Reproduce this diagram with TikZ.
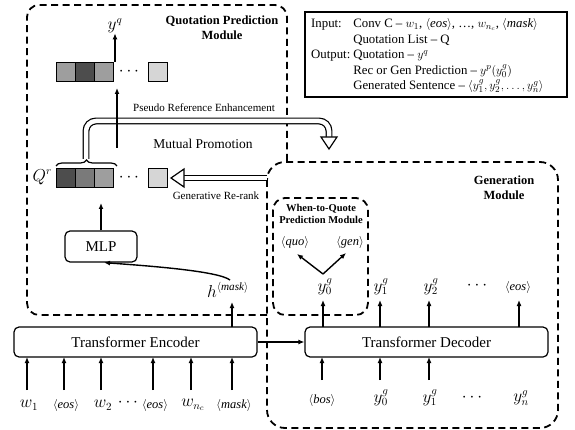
\documentclass[tikz,border=0pt]{standalone}
\usepackage{fontspec}
\setmainfont{Liberation Serif}
\usetikzlibrary{arrows.meta,decorations.pathreplacing,calc}
\definecolor{cA}{HTML}{9E9E9E}
\definecolor{cB}{HTML}{4D4D4D}
\definecolor{cC}{HTML}{7A7A7A}
\definecolor{cD}{HTML}{D6D6D6}
\begin{document}
\begin{tikzpicture}[x=1pt,y=-1pt,
  modbox/.style={line width=1.8pt, dash pattern=on 7pt off 4.5pt},
  tbox/.style={draw, line width=1.2pt, rounded corners=5pt, minimum height=30pt, inner sep=0pt, font=\fontsize{15}{17}\selectfont},
  arr/.style={-{Latex[length=6pt,width=5pt]}, line width=1.4pt},
  lbl/.style={inner sep=0pt, font=\fontsize{16}{18}\selectfont},
  slbl/.style={inner sep=0pt, font=\fontsize{12.5}{14}\selectfont},
  cell/.style={draw, line width=0.8pt, minimum width=19pt, minimum height=19pt, inner sep=0pt},
  hollow/.style={draw, double=white, double distance=4.5pt, line width=1.2pt},
  hhead/.style={draw, fill=white, line width=1.2pt, line join=miter},
  title/.style={inner sep=0pt, align=center, font=\fontsize{12.5}{15}\selectfont\bfseries},
]
\useasboundingbox (0,0) rectangle (575,430);

% module outlines
\draw[modbox, rounded corners=12pt] (267,315) -- (27,315) -- (27,5) -- (287,5) -- (287,162);
\draw[modbox, rounded corners=18pt] (267,162) rectangle (558,428);
\draw[modbox, rounded corners=12pt] (273,198) rectangle (368,315);

% titles
\node[title] (tq) at (222,28) {Quotation Prediction\\Module};
\node[title] (tg) at (504,188) {Generation\\Module};
\node[title, font=\fontsize{10.5}{12}\selectfont\bfseries] (tw) at (321,214) {When-to-Quote\\Prediction Module};

% info box
\draw[line width=1.5pt] (305,12) rectangle (567,97);
\node[inner sep=0pt, anchor=north west, font=\fontsize{12.8}{15.4}\selectfont] (info) at (311,17) {%
\begin{tabular}{@{}l@{\hspace{3pt}}l@{}}
Input: & Conv C – $w_1$, $\langle \mathit{eos}\rangle$, …, $w_{n_c}$, $\langle \mathit{mask}\rangle$\\
 & Quotation List – Q\\
Output: & Quotation – $y^q$\\
 & Rec or Gen Prediction – $y^p(y^g_0)$\\
 & Generated Sentence – $\langle y^g_1, y^g_2, \ldots, y^g_n\rangle$
\end{tabular}};

% cells top row
\node[cell, fill=cA] (t1) at (65.5,71.5) {};
\node[cell, fill=cB] (t2) at (84.5,71.5) {};
\node[cell, fill=cA] (t3) at (103.5,71.5) {};
\node[lbl] (td) at (129,72) {$\cdots$};
\node[cell, fill=cD] (t4) at (158,71.5) {};
% cells Qr row
\node[cell, fill=cB] (q1) at (65.5,177.5) {};
\node[cell, fill=cC] (q2) at (84.5,177.5) {};
\node[cell, fill=cA] (q3) at (103.5,177.5) {};
\node[lbl] (qd) at (129,178) {$\cdots$};
\node[cell, fill=cD] (q4) at (158,177.5) {};
\node[lbl, anchor=east] (qr) at (52,177) {$Q^r$};

\node[lbl] (yq) at (115,26) {$y^q$};
\coordinate (yqs) at (115,62);
\draw[arr] (yqs) -- (yq.south);

% brace
\draw[decorate, decoration={brace, amplitude=6pt}, line width=1.2pt] (56,166) -- (117,166);

% hollow arrows
\coordinate (ps) at (86,159);
\coordinate (pe) at (329,138);
\draw[hollow, rounded corners=10pt] (ps) -- (86,121) -- (329,121) -- (pe);
\draw[hhead] (321,137) -- (337,137) -- (329,149) -- cycle;
\coordinate (gs) at (267,178);
\coordinate (ge) at (184,178);
\draw[hollow] (gs) -- (ge);
\draw[hhead] (184,169) -- (184,187) -- (171,178) -- cycle;

\node[inner sep=0pt, font=\fontsize{11}{12}\selectfont] (lp) at (204,108) {Pseudo Reference Enhancement};
\node[inner sep=0pt, font=\fontsize{13.5}{15}\selectfont] (lm) at (203,144) {Mutual Promotion};
\node[inner sep=0pt, font=\fontsize{11}{12}\selectfont] (lg) at (216,196) {Generative Re-rank};

% vertical arrow Qr -> top row
\coordinate (va) at (117,148);
\coordinate (vb) at (117,88);
\draw[arr] (va) -- (vb);

% MLP
\node[tbox, minimum width=72pt, minimum height=31pt] (mlp) at (101,246.5) {MLP};
\coordinate (mq) at (101,203);
\draw[arr] (mlp.north) -- (mq);

% encoder / decoder
\node[tbox, minimum width=243pt] (enc) at (135.5,342) {Transformer Encoder};
\node[tbox, minimum width=243pt] (dec) at (426.5,342) {Transformer Decoder};
\draw[arr] (enc.east) -- (dec.west);

% h mask
\node[lbl] (hm) at (228,290) {$h^{\langle \mathit{mask}\rangle}$};
\coordinate (hb) at (232,327);
\coordinate (ht) at (232,302);
\draw[arr] (hb) -- (ht);
\coordinate (hs) at (230,280);
\draw[arr] (hs) .. controls (218,271) and (150,266) .. ([xshift=3pt]mlp.south);

% encoder inputs
\foreach \x/\t/\s [count=\i] in {27/{$w_1$}/lbl, 64/{$\langle \mathit{eos}\rangle$}/slbl, 101/{$w_2$}/lbl, 153/{$\langle \mathit{eos}\rangle$}/slbl, 191/{$w_{n_c}$}/lbl, 232/{$\langle \mathit{mask}\rangle$}/slbl}{
  \node[\s] (ein\i) at (\x+2,405) {\t};
  \coordinate (eb\i) at (\x,390);
  \coordinate (et\i) at (\x,357);
  \draw[arr] (eb\i) -- (et\i);
}
\node[lbl] (edots) at (128,403) {$\cdots$};

% decoder outputs
\node[lbl] (o0) at (325,287) {$y^g_0$};
\node[lbl] (o1) at (381,287) {$y^g_1$};
\node[lbl] (o2) at (431,287) {$y^g_2$};
\node[lbl] (od) at (477,286) {$\cdots$};
\node[slbl] (o3) at (518,287) {$\langle \mathit{eos}\rangle$};
\foreach \x [count=\i] in {323,380,429,519}{
  \coordinate (db\i) at (\x,327);
  \coordinate (dt\i) at (\x,300);
  \draw[arr] (db\i) -- (dt\i);
}
% decoder inputs
\node[slbl] (n0) at (322,400) {$\langle \mathit{bos}\rangle$};
\node[lbl] (n1) at (381,398) {$y^g_0$};
\node[lbl] (n2) at (430,398) {$y^g_1$};
\node[lbl] (nd) at (472,398) {$\cdots$};
\node[lbl] (n3) at (521,398) {$y^g_n$};
\foreach \x [count=\i] in {322,380,429}{
  \coordinate (ib\i) at (\x,380);
  \coordinate (it\i) at (\x,357);
  \draw[arr] (ib\i) -- (it\i);
}

% when-to-quote
\node[slbl] (quo) at (295,243) {$\langle \mathit{quo}\rangle$};
\node[slbl] (gen) at (350,243) {$\langle \mathit{gen}\rangle$};
\coordinate (vp) at (323,274);
\draw[arr] (vp) -- (297,254);
\draw[arr] (vp) -- (346,253);
\end{tikzpicture}
\end{document}
